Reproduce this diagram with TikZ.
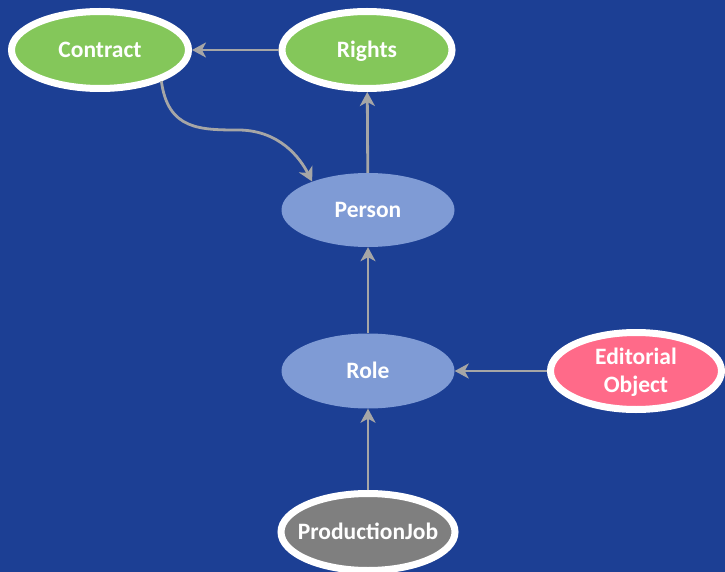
\documentclass[tikz,border=0pt]{standalone}
\usepackage{fontspec}
\setmainfont{Carlito}
\usetikzlibrary{shapes.geometric,arrows.meta}
\definecolor{bgblue}{HTML}{1C3F94}
\definecolor{entgreen}{HTML}{84C75A}
\definecolor{entblue}{HTML}{7F9BD5}
\definecolor{entpink}{HTML}{FF6A89}
\definecolor{entgray}{HTML}{7F7F7F}
\definecolor{linkgray}{HTML}{A6A6A6}
\begin{document}
\begin{tikzpicture}[x=1pt,y=-1pt,
    entity/.style={ellipse,inner xsep=-30pt,inner ysep=0pt,text=white,align=center,
        font=\fontsize{23.5}{28}\selectfont\bfseries,text height=15pt,text depth=0pt},
    framed/.style={entity,draw=white,line width=7pt},
    link/.style={draw=linkgray,line width=2.8pt,-{Stealth[length=14pt,width=15pt,inset=4pt]}}]
    \fill[bgblue] (0,0) rectangle (725,572);
    \clip (0,0) rectangle (725,572);

    \node[framed,fill=entgreen,minimum width=177pt,minimum height=77pt] (contract) at (100,50) {Contract};
    \node[framed,fill=entgreen,minimum width=170pt,minimum height=77pt] (rights) at (367,50) {Rights};
    \node[entity,fill=entblue,minimum width=173pt,minimum height=74pt] (person) at (368,210) {Person};
    \node[entity,fill=entblue,minimum width=173pt,minimum height=75pt] (role) at (368,371) {Role};
    \node[framed,fill=entpink,minimum width=171pt,minimum height=77pt,text height=43pt] (editorial) at (636,371) {Editorial\\Object};
    \node[framed,fill=entgray,minimum width=174pt,minimum height=77pt] (job) at (368,532) {ProductionJob};

    \draw[link] (rights) -- (contract);
    \draw[link] (contract.-27) .. controls (168,130) and (200,130) .. (240,130)
        .. controls (280,131) and (300,158) .. (person.153);
    \draw[link] (person) -- (rights);
    \draw[link] (role) -- (person);
    \draw[link] (editorial) -- (role);
    \draw[link] (job) -- (role);
\end{tikzpicture}
\end{document}
